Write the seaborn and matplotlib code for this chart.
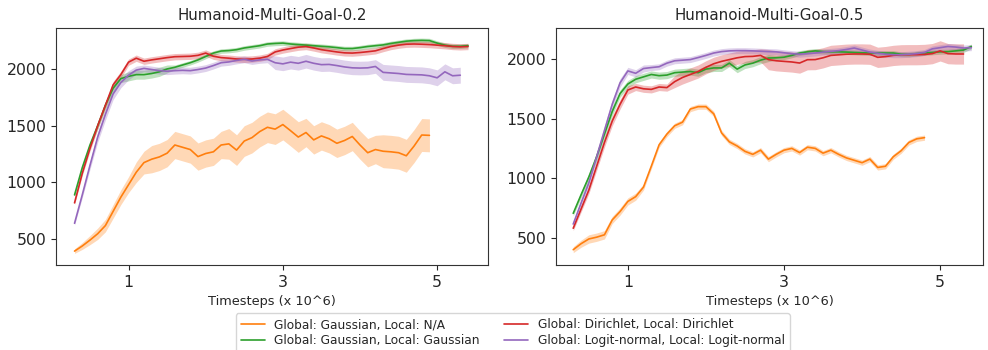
import matplotlib
matplotlib.use("Agg")
import matplotlib.pyplot as plt
import numpy as np
import pandas as pd
import seaborn as sns

# timesteps (x 10^6), sampled every 0.1
steps = [round(0.3 + 0.1 * i, 1) for i in range(52)]

labels = [
    "Global: Gaussian, Local: N/A",
    "Global: Gaussian, Local: Gaussian",
    "Global: Dirichlet, Local: Dirichlet",
    "Global: Logit-normal, Local: Logit-normal",
]
colors = ["tab:orange", "tab:green", "tab:red", "tab:purple"]

# ---- Humanoid-Multi-Goal-0.2 ----
g02_orange = [395, 440, 492, 548, 620, 745, 870, 980, 1090, 1175,
              1205, 1225, 1258, 1330, 1310, 1290, 1228, 1255, 1270, 1330,
              1340, 1285, 1365, 1395, 1448, 1486, 1470, 1510, 1456, 1400,
              1440, 1375, 1410, 1385, 1345, 1370, 1405, 1330, 1262, 1290,
              1275, 1270, 1262, 1235, 1320, 1418, 1415]
g02_orange_sd = [20, 30, 40, 50, 55, 60, 65, 70, 90, 100] + [120] * 10 + [135] * 10 + [125] * 10 + [145] * 7
g02_green = [890, 1130, 1330, 1500, 1680, 1830, 1915, 1935, 1950, 1950,
             1960, 1975, 2000, 2015, 2035, 2055, 2080, 2110, 2140, 2158,
             2162, 2170, 2185, 2195, 2205, 2220, 2225, 2228, 2220, 2215,
             2210, 2205, 2200, 2195, 2188, 2180, 2180, 2188, 2198, 2205,
             2212, 2225, 2235, 2245, 2250, 2252, 2250, 2228, 2210, 2200,
             2200, 2205]
g02_green_sd = [15, 20, 25, 30, 30, 30, 35, 40, 40, 40, 40, 40, 35] + [20] * 39
g02_red = [820, 1080, 1300, 1500, 1680, 1860, 1950, 2060, 2095, 2068,
           2080, 2090, 2100, 2108, 2110, 2112, 2120, 2140, 2112, 2100,
           2095, 2088, 2085, 2088, 2095, 2110, 2150, 2167, 2180, 2192,
           2198, 2185, 2170, 2160, 2150, 2142, 2140, 2145, 2152, 2160,
           2180, 2198, 2210, 2218, 2220, 2218, 2215, 2210, 2205, 2198,
           2195, 2198]
g02_red_sd = [15, 20, 25, 30, 30, 30, 30] + [28] * 45
g02_purple = [640, 890, 1150, 1400, 1600, 1780, 1880, 1945, 1990, 2005,
              1995, 1985, 1980, 1985, 1988, 1985, 1995, 2008, 2030, 2055,
              2062, 2075, 2085, 2070, 2080, 2085, 2055, 2045, 2060, 2050,
              2068, 2050, 2038, 2040, 2030, 2018, 2010, 2008, 2010, 2022,
              1970, 1965, 1960, 1952, 1950, 1948, 1940, 1922, 1975, 1940,
              1945]
g02_purple_sd = [15, 25, 35, 45, 50, 50, 45, 40, 35, 30] + [30] * 16 + [60] * 14 + [70] * 11

# ---- Humanoid-Multi-Goal-0.5 ----
g05_orange = [400, 450, 490, 505, 525, 650, 720, 805, 845, 925,
              1100, 1280, 1370, 1440, 1470, 1580, 1600, 1600, 1540, 1380,
              1305, 1270, 1225, 1200, 1235, 1160, 1200, 1235, 1250, 1215,
              1260, 1250, 1210, 1235, 1200, 1170, 1150, 1130, 1160, 1090,
              1100, 1180, 1230, 1300, 1330, 1340]
g05_orange_sd = [25, 30, 35, 35, 35, 30, 30, 30, 30, 25] + [22] * 36
g05_green = [705, 860, 1010, 1180, 1370, 1560, 1710, 1790, 1830, 1850,
             1870, 1860, 1865, 1885, 1890, 1895, 1885, 1915, 1925, 1925,
             1965, 1915, 1950, 1965, 1990, 2008, 2010, 2015, 2030, 2050,
             2060, 2068, 2062, 2060, 2060, 2058, 2055, 2052, 2050, 2050,
             2050, 2050, 2040, 2038, 2045, 2050, 2055, 2060, 2062, 2068,
             2075, 2105]
g05_green_sd = [20, 25, 30, 35, 35, 35, 30, 30, 30, 30] + [30] * 16 + [20] * 26
g05_red = [580, 740, 900, 1100, 1300, 1480, 1620, 1740, 1765, 1750,
           1745, 1765, 1760, 1810, 1845, 1870, 1895, 1930, 1960, 1980,
           1995, 2010, 2020, 2022, 2030, 1995, 1985, 1980, 1975, 1966,
           1994, 1995, 2010, 2030, 2035, 2040, 2042, 2042, 2040, 2014,
           2020, 2030, 2035, 2036, 2036, 2038, 2045, 2068, 2045, 2042,
           2042]
g05_red_sd = [20, 25, 30, 35, 40, 40, 40, 35, 30, 30, 30, 30, 30, 50] + [55] * 11 + [85] * 26
g05_purple = [615, 790, 960, 1180, 1400, 1620, 1800, 1900, 1880, 1920,
              1928, 1935, 1965, 1985, 1990, 1995, 2012, 2030, 2050, 2062,
              2068, 2070, 2070, 2068, 2065, 2062, 2060, 2052, 2045, 2040,
              2045, 2050, 2058, 2064, 2070, 2080, 2092, 2075, 2058, 2048,
              2040, 2036, 2036, 2040, 2045, 2055, 2085, 2095, 2105, 2100,
              2092, 2095]
g05_purple_sd = [20, 30, 35, 40, 40, 40, 35, 30, 30, 30] + [25] * 42

panels = [
    ("Humanoid-Multi-Goal-0.2",
     [g02_orange, g02_green, g02_red, g02_purple],
     [g02_orange_sd, g02_green_sd, g02_red_sd, g02_purple_sd],
     (0.06, 5.66), (273, 2361)),
    ("Humanoid-Multi-Goal-0.5",
     [g05_orange, g05_green, g05_red, g05_purple],
     [g05_orange_sd, g05_green_sd, g05_red_sd, g05_purple_sd],
     (0.08, 5.55), (272, 2260)),
]

sns.set_style("ticks")
plt.rcParams["font.family"] = ["DejaVu Sans"]

fig = plt.figure(figsize=(9.88, 3.5), dpi=100)
ax_left = fig.add_axes([0.0567, 0.243, 0.4373, 0.677])
ax_right = fig.add_axes([0.5628, 0.243, 0.4322, 0.677])

for ax, (title, means, sds, xlim, ylim) in zip([ax_left, ax_right], panels):
    for mean, sd, color, label in zip(means, sds, colors, labels):
        t = np.array(steps[:len(mean)])
        m = np.array(mean, dtype=float)
        s = np.array(sd, dtype=float)
        df = pd.DataFrame({"t": t, "reward": m})
        sns.lineplot(data=df, x="t", y="reward", color=color, lw=1.2,
                     label=label, ax=ax, legend=False)
        ax.fill_between(t, m - s, m + s, color=color, alpha=0.3, lw=0)
    ax.set_title(title, fontsize=10.8)
    ax.set_xlabel("Timesteps (x 10^6)", fontsize=9.3)
    ax.set_ylabel("")
    ax.set_xticks([1, 3, 5])
    ax.set_yticks([500, 1000, 1500, 2000])
    ax.tick_params(labelsize=11.3)
    ax.set_xlim(*xlim)
    ax.set_ylim(*ylim)
    for sp in ax.spines.values():
        sp.set_visible(True)
        sp.set_color("#333333")

handles, hlabels = ax_left.get_legend_handles_labels()
fig.legend(handles, hlabels, loc="upper center", bbox_to_anchor=(0.519, 0.105),
           ncol=2, fontsize=8.7, frameon=True, handlelength=2.0,
           borderaxespad=0.0, labelspacing=0.25)

fig.savefig("out.png", dpi=100)
